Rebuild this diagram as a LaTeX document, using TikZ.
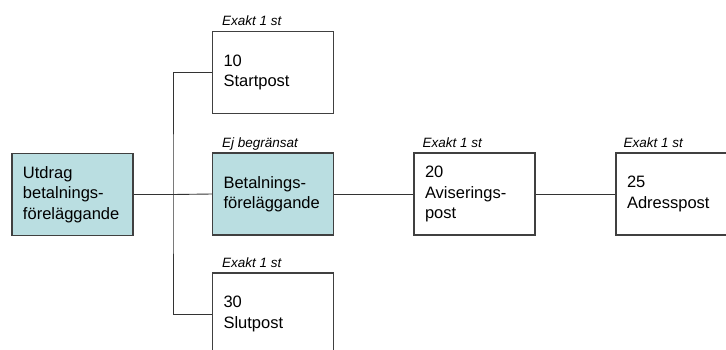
\documentclass[tikz,border=0pt]{standalone}
\usepackage{fontspec}
\setmainfont{Liberation Sans}
\definecolor{postfarg}{RGB}{186,222,225}
\tikzset{
  post/.style={draw=black!75, line width=1.3pt, minimum width=121pt, minimum height=82pt,
    text width=99pt, inner xsep=11pt, inner ysep=0pt, align=left,
    font=\fontsize{16.5}{20.5}\selectfont},
  fylld/.style={post, fill=postfarg},
  antal/.style={anchor=base west, inner sep=0pt, font=\fontsize{13.5}{16}\selectfont\itshape},
  linje/.style={draw=black!80, line width=0.9pt}
}
\begin{document}
\begin{tikzpicture}[x=1pt, y=-1pt]
\useasboundingbox (0,0) rectangle (726,349);
\clip (0,0) rectangle (726,349);

\node[fylld] (utdrag) at (72.5,194.5) {Utdrag\\betalnings-\\föreläggande};
\node[post] (start) at (273,72.5) {10\\Startpost};
\node[fylld] (betal) at (273,194) {Betalnings-\\föreläggande};
\node[post] (slut) at (273,314) {30\\Slutpost};
\node[post] (avis) at (474.5,194) {20\\Aviserings-\\post};
\node[post] (adress) at (676.5,194) {25\\Adresspost};

\node[antal] (nstart) at ([xshift=10pt,yshift=5pt]start.north west) {Exakt 1 st};
\node[antal] (nbetal) at ([xshift=10pt,yshift=5pt]betal.north west) {Ej begränsat};
\node[antal] (nslut) at ([xshift=10pt,yshift=5pt]slut.north west) {Exakt 1 st};
\node[antal] (navis) at ([xshift=9pt,yshift=5pt]avis.north west) {Exakt 1 st};
\node[antal] (nadress) at ([xshift=8pt,yshift=5pt]adress.north west) {Exakt 1 st};

\coordinate (stam) at (173,194.5);
\draw[linje, line width=1.8pt] (utdrag.east) -- (stam);
\draw[linje] (stam) -- (betal.west);
\draw[linje] (start.west) -| (stam) |- (slut.west);
\draw[linje] (betal.east) -- (avis.west);
\draw[linje] (avis.east) -- (adress.west);

\end{tikzpicture}
\end{document}
